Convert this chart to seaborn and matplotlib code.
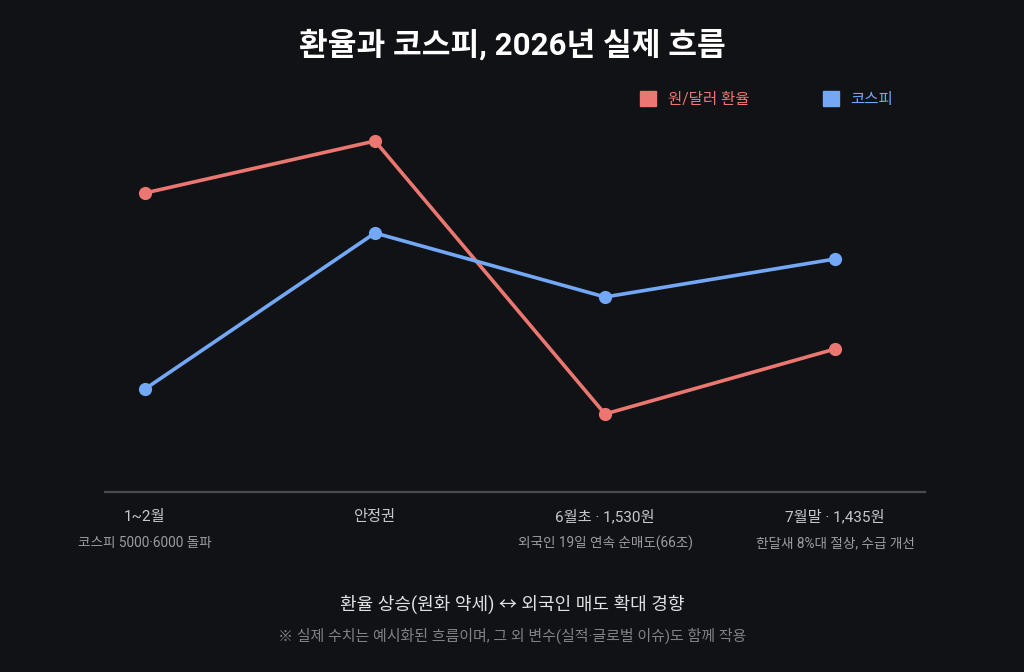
import pandas as pd
import seaborn as sns
import matplotlib.pyplot as plt
from matplotlib.patches import Patch

# Data (relative levels, no y scale shown)
periods = ['1~2월', '안정권', '6월초 · 1,530원', '7월말 · 1,435원']
notes = ['코스피 5000·6000 돌파', '', '외국인 19일 연속 순매도(66조)', '한달새 8%대 절상, 수급 개선']
fx_level = [299, 351, 78, 143]
kospi_level = [103, 259, 195, 233]
series_names = ['원/달러 환율', '코스피']

bg = '#111216'
red = '#ec7670'
blue = '#72a8f6'

sns.set_theme(style='dark')
plt.rcParams['font.family'] = ['Roboto', 'Noto Sans CJK KR', 'DejaVu Sans']
plt.rcParams['axes.unicode_minus'] = False

df = pd.DataFrame({
    'idx': list(range(len(periods))) * 2,
    'level': fx_level + kospi_level,
    'series': [series_names[0]] * len(periods) + [series_names[1]] * len(periods),
})

fig = plt.figure(figsize=(10.24, 6.72), dpi=100, facecolor=bg)
ax = fig.add_axes([105 / 1024, 180 / 672, 820 / 1024, 400 / 672])
ax.set_facecolor(bg)

sns.lineplot(data=df, x='idx', y='level', hue='series', palette=[red, blue],
             marker='o', markersize=9.5, markeredgewidth=0, linewidth=2.6,
             legend=False, ax=ax)

ax.set_xlim(-40 / 230, 3 + 90 / 230)
ax.set_ylim(0, 400)
for s in ['top', 'right', 'left']:
    ax.spines[s].set_visible(False)
ax.spines['bottom'].set_color('#4a4b50')
ax.spines['bottom'].set_linewidth(1.6)
ax.grid(False)
ax.set_yticks([])
ax.set_xlabel('')
ax.set_ylabel('')
ax.set_xticks(range(len(periods)))
ax.set_xticklabels(periods, fontsize=11, color='#c8c8cc')
ax.tick_params(axis='x', length=0, pad=13)

for i, n in enumerate(notes):
    if n:
        ax.annotate(n, xy=(i, 0), xycoords=ax.get_xaxis_transform(),
                    xytext=(0, -37), textcoords='offset points',
                    ha='center', va='center', fontsize=9.8, color='#9c9ca2')

# Legend
handles = [Patch(facecolor=red, edgecolor=red), Patch(facecolor=blue, edgecolor=blue)]
leg = fig.legend(handles, series_names, loc='center left',
                 bbox_to_anchor=(640 / 1024, 1 - 99 / 672), ncol=2, frameon=False,
                 fontsize=11.2, handlelength=1.05, handleheight=1.05,
                 handletextpad=0.75, columnspacing=4.7, borderpad=0, borderaxespad=0)
for txt, c in zip(leg.get_texts(), [red, blue]):
    txt.set_color(c)

fig.text(0.5, 1 - 45 / 672, '환율과 코스피, 2026년 실제 흐름', ha='center', va='center',
         fontsize=22.5, fontweight='bold', color='white')
fig.text(0.5, 1 - 604 / 672, '환율 상승(원화 약세) ↔ 외국인 매도 확대 경향',
         ha='center', va='center', fontsize=13, color='#e2e2e4')
fig.text(0.5, 1 - 636 / 672, '※ 실제 수치는 예시화된 흐름이며, 그 외 변수(실적·글로벌 이슈)도 함께 작용',
         ha='center', va='center', fontsize=10.8, color='#818187')

fig.savefig('out.png', dpi=100, facecolor=bg)
